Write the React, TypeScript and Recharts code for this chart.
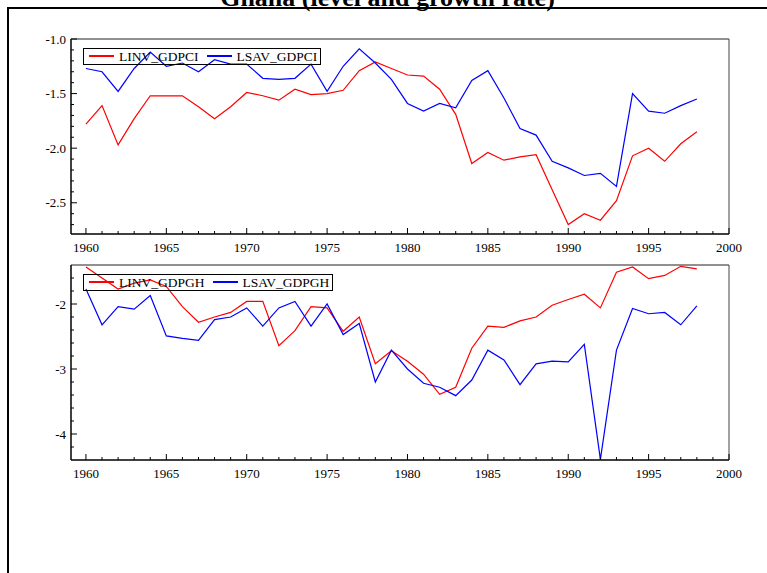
import React from "react";
import { LineChart, Line, XAxis, YAxis, Legend, ReferenceLine } from "recharts";

const FONT = '"Liberation Serif", "Times New Roman", serif';

const YEARS = [
  1960, 1961, 1962, 1963, 1964, 1965, 1966, 1967, 1968, 1969,
  1970, 1971, 1972, 1973, 1974, 1975, 1976, 1977, 1978, 1979,
  1980, 1981, 1982, 1983, 1984, 1985, 1986, 1987, 1988, 1989,
  1990, 1991, 1992, 1993, 1994, 1995, 1996, 1997, 1998,
];

// level series
const LINV_GDPCI = [
  -1.78, -1.61, -1.97, -1.73, -1.52, -1.52, -1.52, -1.62, -1.73, -1.62,
  -1.49, -1.52, -1.56, -1.46, -1.51, -1.50, -1.47, -1.29, -1.21, -1.27,
  -1.33, -1.34, -1.46, -1.69, -2.14, -2.04, -2.11, -2.08, -2.06, -2.38,
  -2.70, -2.60, -2.66, -2.48, -2.07, -2.00, -2.12, -1.96, -1.85,
];
const LSAV_GDPCI = [
  -1.27, -1.30, -1.48, -1.27, -1.12, -1.25, -1.22, -1.30, -1.19, -1.23,
  -1.23, -1.36, -1.37, -1.36, -1.23, -1.48, -1.25, -1.09, -1.22, -1.37,
  -1.59, -1.66, -1.59, -1.63, -1.38, -1.29, -1.54, -1.82, -1.88, -2.12,
  -2.18, -2.25, -2.23, -2.35, -1.50, -1.66, -1.68, -1.61, -1.55,
];

// growth series
const LINV_GDPGH = [
  -1.43, -1.60, -1.77, -1.68, -1.63, -1.73, -2.04, -2.28, -2.20, -2.13,
  -1.96, -1.96, -2.64, -2.41, -2.04, -2.06, -2.42, -2.20, -2.92, -2.72,
  -2.88, -3.08, -3.39, -3.28, -2.68, -2.34, -2.36, -2.26, -2.20, -2.02,
  -1.93, -1.85, -2.06, -1.51, -1.43, -1.61, -1.56, -1.42, -1.46,
];
const LSAV_GDPGH = [
  -1.77, -2.32, -2.04, -2.08, -1.87, -2.49, -2.53, -2.56, -2.24, -2.20,
  -2.06, -2.34, -2.06, -1.96, -2.34, -2.00, -2.47, -2.30, -3.20, -2.71,
  -3.00, -3.22, -3.28, -3.41, -3.17, -2.71, -2.86, -3.24, -2.92, -2.88,
  -2.89, -2.62, -4.39, -2.71, -2.07, -2.15, -2.13, -2.32, -2.03,
];

const X_TICKS = [...YEARS, 1999, 2000];
const X_MAJOR = [1960, 1965, 1970, 1975, 1980, 1985, 1990, 1995, 2000];

const TOP_Y_TICKS = [
  -2.7, -2.6, -2.5, -2.4, -2.3, -2.2, -2.1, -2.0, -1.9,
  -1.8, -1.7, -1.6, -1.5, -1.4, -1.3, -1.2, -1.1, -1.0,
];
const TOP_Y_MAJOR = [-2.5, -2.0, -1.5, -1.0];

const BOT_Y_TICKS = [
  -4.2, -4.0, -3.8, -3.6, -3.4, -3.2, -3.0, -2.8, -2.6,
  -2.4, -2.2, -2.0, -1.8, -1.6,
];
const BOT_Y_MAJOR = [-4, -3, -2];

const levelData = YEARS.map((year, i) => ({
  year,
  inv: LINV_GDPCI[i],
  sav: LSAV_GDPCI[i],
}));
const growthData = YEARS.map((year, i) => ({
  year,
  inv: LINV_GDPGH[i],
  sav: LSAV_GDPGH[i],
}));

const isIn = (list: number[], v: number) => list.some((m) => Math.abs(m - v) < 1e-6);

const makeYTick = (major: number[], digits: number) => (props: any) => {
  const { x, y, payload } = props;
  const big = isIn(major, payload.value);
  return (
    <g>
      <line x1={x} x2={x + (big ? 6 : 3)} y1={y} y2={y} stroke="#000" strokeWidth={1} />
      {big && (
        <text x={x - 5} y={y} dy={4.5} textAnchor="end" fontFamily={FONT} fontSize={13} fill="#000">
          {payload.value.toFixed(digits)}
        </text>
      )}
    </g>
  );
};

const XTick = (props: any) => {
  const { x, y, payload } = props;
  const big = isIn(X_MAJOR, payload.value);
  return (
    <g>
      <line x1={x} x2={x} y1={y} y2={y - (big ? 6 : 3)} stroke="#000" strokeWidth={1} />
      {big && (
        <text x={x} y={y} dy={18} textAnchor="middle" fontFamily={FONT} fontSize={13} fill="#000">
          {payload.value}
        </text>
      )}
    </g>
  );
};

const LegendBox = ({ payload }: any) => (
  <div
    style={{
      display: "inline-flex",
      alignItems: "center",
      border: "1px solid #000",
      height: 15,
      padding: "0 3px 0 5px",
      fontFamily: FONT,
      fontSize: 13.5,
      lineHeight: "15px",
      whiteSpace: "nowrap",
      color: "#000",
    }}
  >
    {(payload || []).map((e: any, i: number) => (
      <span key={e.value} style={{ display: "inline-flex", alignItems: "center", marginLeft: i ? 8 : 0 }}>
        <span style={{ display: "inline-block", width: 25, height: 2, background: e.color, marginRight: 5 }} />
        <span>{e.value}</span>
      </span>
    ))}
  </div>
);

const Panel = ({ data, names, yDomain, yTicks, yMajor, digits, height, top, legendTop }: any) => (
  <LineChart
    width={767}
    height={height}
    data={data}
    margin={{ top, right: 38, left: 0, bottom: 0 }}
  >
    <XAxis
      type="number"
      dataKey="year"
      domain={[1959.07, 2000]}
      ticks={X_TICKS}
      interval={0}
      allowDataOverflow
      height={26}
      tickSize={0}
      tickMargin={0}
      tickLine={false}
      axisLine={{ stroke: "#000", strokeWidth: 1.5 }}
      tick={XTick}
    />
    <YAxis
      type="number"
      domain={yDomain}
      ticks={yTicks}
      interval={0}
      allowDataOverflow
      width={71}
      tickSize={0}
      tickMargin={0}
      tickLine={false}
      axisLine={{ stroke: "#000", strokeWidth: 1.5 }}
      tick={makeYTick(yMajor, digits)}
    />
    <ReferenceLine y={yDomain[1]} stroke="#222" strokeWidth={1} />
    <ReferenceLine x={2000} stroke="#444" strokeWidth={1} />
    <Legend
      layout="horizontal"
      verticalAlign="middle"
      align="center"
      content={LegendBox}
      wrapperStyle={{ left: 83, top: legendTop, width: "auto", height: "auto" }}
    />
    <Line
      type="linear"
      dataKey="inv"
      name={names[0]}
      stroke="#ff0000"
      strokeWidth={1.2}
      dot={false}
      isAnimationActive={false}
    />
    <Line
      type="linear"
      dataKey="sav"
      name={names[1]}
      stroke="#0000ff"
      strokeWidth={1.2}
      dot={false}
      isAnimationActive={false}
    />
  </LineChart>
);

export default function App() {
  return (
    <div
      style={{
        position: "fixed",
        left: 0,
        top: 0,
        width: 767,
        height: 573,
        overflow: "hidden",
        background: "#fff",
      }}
    >
      <svg width={767} height={20} style={{ position: "absolute", left: 0, top: 0 }}>
        <text x={387.5} y={6} textAnchor="middle" fontFamily={FONT} fontWeight="bold" fontSize={26} fill="#000">
          Ghana (level and growth rate)
        </text>
      </svg>
      <div
        style={{
          position: "absolute",
          left: 7,
          top: 7,
          width: 800,
          height: 600,
          borderLeft: "2px solid #000",
          borderTop: "2px solid #000",
        }}
      />
      <div style={{ position: "absolute", left: 0, top: 0 }}>
        <Panel
          data={levelData}
          names={["LINV_GDPCI", "LSAV_GDPCI"]}
          yDomain={[-2.786, -1.0]}
          yTicks={TOP_Y_TICKS}
          yMajor={TOP_Y_MAJOR}
          digits={1}
          height={260}
          top={39}
          legendTop={43}
        />
      </div>
      <div style={{ position: "absolute", left: 0, top: 240 }}>
        <Panel
          data={growthData}
          names={["LINV_GDPGH", "LSAV_GDPGH"]}
          yDomain={[-4.4, -1.4]}
          yTicks={BOT_Y_TICKS}
          yMajor={BOT_Y_MAJOR}
          digits={0}
          height={246}
          top={25}
          legendTop={29}
        />
      </div>
    </div>
  );
}
